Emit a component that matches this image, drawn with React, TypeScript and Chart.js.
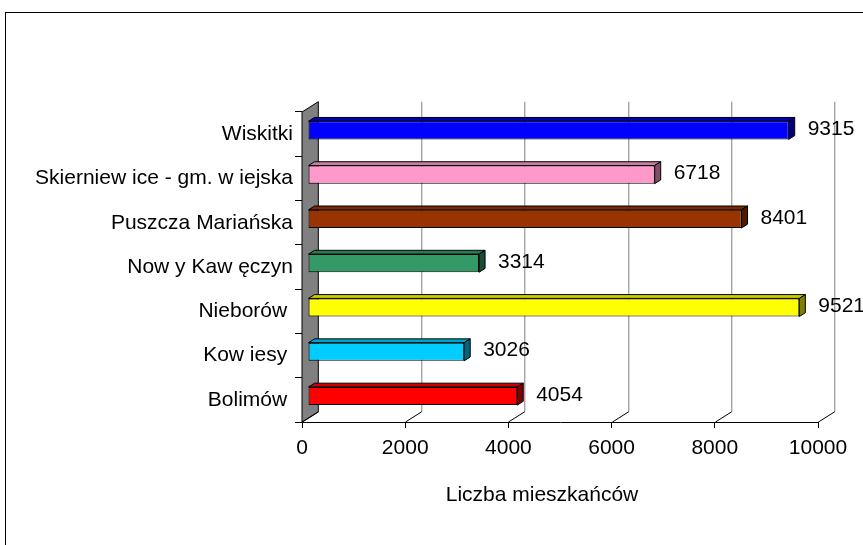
import React, { useEffect, useRef } from 'react';
import { Chart, registerables } from 'chart.js';

Chart.register(...registerables);

// ---- data ----
const categories = [
  'Wiskitki',
  'Skierniew ice - gm. w iejska',
  'Puszcza Mariańska',
  'Now y Kaw ęczyn',
  'Nieborów ',
  'Kow iesy ',
  'Bolimów ',
];
const values = [9315, 6718, 8401, 3314, 9521, 3026, 4054];
const frontColors = ['#0000FF', '#FF99CC', '#993300', '#339966', '#FFFF00', '#00CCFF', '#FF0000'];
const topColors = ['#0000B3', '#CC7AA3', '#7A2900', '#297A52', '#CCCC00', '#00A3CC', '#CC0000'];
const sideColors = ['#000080', '#804D66', '#4D1A00', '#1A4D33', '#808000', '#006680', '#800000'];
const xMin = 0;
const xMax = 10000;
const xStep = 2000;
const axisTitle = 'Liczba mieszkańców';

// ---- 3D look ----
const DX = 16.3;
const DY = -10.3;
const BAR_SHIFT = 0.37;
const BAR_DEPTH = 0.37;
const FONT = 'Liberation Sans, Arial, sans-serif';

const pseudo3d = {
  id: 'pseudo3d',
  beforeDraw(chart: any) {
    const { ctx, width, height } = chart;
    ctx.save();
    ctx.fillStyle = '#ffffff';
    ctx.fillRect(0, 0, width, height);
    ctx.strokeStyle = '#000000';
    ctx.lineWidth = 1;
    ctx.strokeRect(5.5, 12.5, 1000, 1000);
    ctx.restore();
  },
  beforeDatasetsDraw(chart: any) {
    const { ctx, chartArea: a, scales } = chart;
    const x = scales.x;
    ctx.save();
    // side wall
    ctx.beginPath();
    ctx.moveTo(a.left, a.top);
    ctx.lineTo(a.left + DX, a.top + DY);
    ctx.lineTo(a.left + DX, a.bottom + DY);
    ctx.lineTo(a.left, a.bottom);
    ctx.closePath();
    ctx.fillStyle = '#808080';
    ctx.fill();
    ctx.strokeStyle = '#000000';
    ctx.lineWidth = 1;
    ctx.stroke();
    // back grid lines + floor lines
    x.ticks.forEach((t: any, i: number) => {
      const px = Math.round(x.getPixelForValue(t.value)) + 0.5;
      if (i > 0) {
        ctx.strokeStyle = '#808080';
        ctx.beginPath();
        ctx.moveTo(px + DX, a.top + DY);
        ctx.lineTo(px + DX, a.bottom + DY);
        ctx.stroke();
      }
      ctx.strokeStyle = '#000000';
      ctx.beginPath();
      ctx.moveTo(px, a.bottom);
      ctx.lineTo(px + DX, a.bottom + DY);
      ctx.stroke();
    });
    ctx.restore();
    ctx.save();
    ctx.translate(DX * BAR_SHIFT, DY * BAR_SHIFT);
  },
  afterDatasetsDraw(chart: any) {
    const { ctx } = chart;
    const meta = chart.getDatasetMeta(0);
    const bx = DX * BAR_DEPTH;
    const by = DY * BAR_DEPTH;
    meta.data.forEach((bar: any, i: number) => {
      const p = bar.getProps(['x', 'y', 'base', 'height'], true);
      const top = p.y - p.height / 2;
      const bottom = p.y + p.height / 2;
      const left = p.base;
      const right = p.x;
      ctx.lineWidth = 1;
      ctx.strokeStyle = '#000000';
      // top face
      ctx.beginPath();
      ctx.moveTo(left, top);
      ctx.lineTo(left + bx, top + by);
      ctx.lineTo(right + bx, top + by);
      ctx.lineTo(right, top);
      ctx.closePath();
      ctx.fillStyle = topColors[i];
      ctx.fill();
      ctx.stroke();
      // side face
      ctx.beginPath();
      ctx.moveTo(right, top);
      ctx.lineTo(right + bx, top + by);
      ctx.lineTo(right + bx, bottom + by);
      ctx.lineTo(right, bottom);
      ctx.closePath();
      ctx.fillStyle = sideColors[i];
      ctx.fill();
      ctx.stroke();
    });
    ctx.restore();
    // value labels
    ctx.save();
    ctx.font = `21px ${FONT}`;
    ctx.fillStyle = '#000000';
    ctx.textAlign = 'left';
    ctx.textBaseline = 'middle';
    meta.data.forEach((bar: any, i: number) => {
      const p = bar.getProps(['x', 'y'], true);
      ctx.fillText(String(values[i]), p.x + 25, p.y - 5);
    });
    // axis title
    ctx.textAlign = 'center';
    ctx.fillText(axisTitle, 542, 495);
    ctx.restore();
  },
};

export default function App() {
  const ref = useRef<HTMLCanvasElement>(null);
  useEffect(() => {
    const chart = new Chart(ref.current as HTMLCanvasElement, {
      type: 'bar',
      data: {
        labels: categories,
        datasets: [
          {
            data: values,
            backgroundColor: frontColors,
            borderColor: '#000000',
            borderWidth: 1,
            borderSkipped: false,
            categoryPercentage: 1,
            barPercentage: 0.41,
          },
        ],
      },
      options: {
        indexAxis: 'y',
        animation: false,
        responsive: false,
        devicePixelRatio: 1,
        layout: { padding: { top: 112, right: 45, left: 0, bottom: 0 } },
        plugins: { legend: { display: false }, tooltip: { enabled: false } },
        scales: {
          x: {
            type: 'linear',
            min: xMin,
            max: xMax,
            ticks: {
              stepSize: xStep,
              color: '#000',
              font: { family: FONT, size: 21 },
              padding: 8,
              maxRotation: 0,
              callback: (v: any) => String(v),
            },
            grid: { drawOnChartArea: false, tickLength: 6, color: '#000' },
            border: { color: '#000' },
            afterFit: (s: any) => { s.height = 123; },
          },
          y: {
            type: 'category',
            ticks: { color: '#000', font: { family: FONT, size: 21 }, padding: 2 },
            grid: { drawOnChartArea: false, tickLength: 7, color: '#000' },
            border: { color: '#000' },
            afterFit: (s: any) => { s.width = 302; },
          },
        },
      } as any,
      plugins: [pseudo3d],
    });
    return () => chart.destroy();
  }, []);
  return (
    <div style={{ position: 'fixed', left: 0, top: 0, width: 863, height: 545, background: '#fff' }}>
      <canvas ref={ref} width={863} height={545} style={{ display: 'block' }} />
    </div>
  );
}
